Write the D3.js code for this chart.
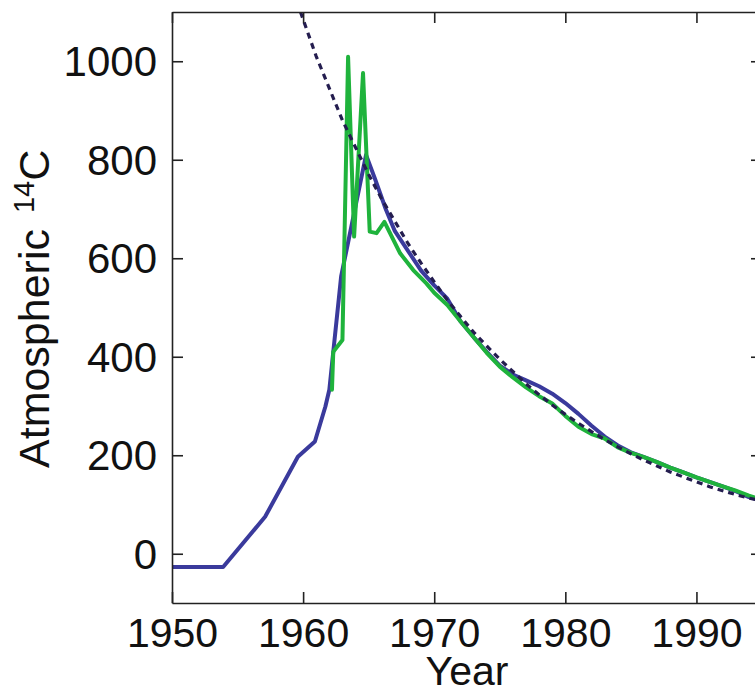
<!DOCTYPE html>
<html>
<head>
<meta charset="utf-8">
<script src="https://cdn.jsdelivr.net/npm/d3@7"></script>
<style>
  html, body { margin: 0; padding: 0; background: #fff; }
  svg { display: block; }
  text { font-family: "Liberation Sans", Arial, Helvetica, sans-serif; fill: #111; }
</style>
</head>
<body>
<svg id="chart" width="755" height="694"></svg>
<script>
// ---- Data ----
const blueYears  = [1950, 1953.9, 1957.1, 1959.6, 1960.9, 1961.7, 1962.0, 1962.9, 1964.8, 1965.5, 1966.3, 1967, 1968, 1969, 1970, 1971, 1972, 1973, 1974, 1975, 1976, 1977, 1978, 1979, 1980, 1981, 1982, 1983, 1984, 1985, 1986, 1987, 1988, 1989, 1990, 1991, 1992, 1993, 1994, 1995];
const blueValues = [-27, -27, 75, 197, 228, 299, 333, 563, 810, 760, 700, 655, 615, 575, 545, 518, 472, 440, 410, 382, 364, 352, 340, 325, 306, 284, 260, 238, 220, 206, 196, 186, 175, 165, 155, 146, 137, 127, 115, 108];

const greenYears  = [1962.2, 1962.3, 1963.0, 1963.43, 1963.89, 1964.57, 1965.08, 1965.6, 1966.2, 1967.4, 1968.4, 1969.4, 1970, 1971, 1972, 1973, 1974, 1975, 1976, 1977, 1978, 1979, 1980, 1981, 1982, 1983, 1984, 1985, 1986, 1987, 1988, 1989, 1990, 1991, 1992, 1993, 1994, 1995];
const greenValues = [333, 410, 434, 1009, 644, 976, 654, 651, 674, 610, 576, 549, 530, 505, 472, 440, 408, 380, 358, 338, 320, 305, 280, 258, 243, 234, 216, 205, 196, 186, 175, 165, 155, 146, 137, 128, 118, 110];

const fitYears  = [1959.8, 1961, 1962, 1963, 1964, 1965, 1966, 1967, 1968, 1969, 1970, 1971, 1972, 1973, 1974, 1975, 1976, 1977, 1978, 1979, 1980, 1981, 1982, 1983, 1984, 1985, 1986, 1987, 1988, 1989, 1990, 1991, 1992, 1993, 1994, 1995];
const fitValues = [1100, 1010, 945, 880, 825, 770, 720, 675, 630, 590, 552, 515, 482, 450, 422, 395, 370, 345, 323, 302, 283, 265, 248, 232, 217, 203, 190, 178, 166, 156, 146, 136, 128, 120, 113, 107];

const xTicks = [1950, 1960, 1970, 1980, 1990];
const yTicks = [0, 200, 400, 600, 800, 1000];

// ---- Layout ----
const mLeft = 172, mRight = 762, mTop = 12, mBottom = 603;
const svg = d3.select("#chart");

const x = d3.scaleLinear().domain([1950, 1995]).range([mLeft, mRight]);
const y = d3.scaleLinear().domain([-100, 1100]).range([mBottom, mTop]);

svg.append("defs").append("clipPath").attr("id", "plotclip")
  .append("rect").attr("x", mLeft).attr("y", mTop)
  .attr("width", mRight - mLeft).attr("height", mBottom - mTop);

const line = d3.line().x(d => x(d[0])).y(d => y(d[1]));
const zip = (a, b) => a.map((v, i) => [v, b[i]]);

const plot = svg.append("g").attr("clip-path", "url(#plotclip)");

plot.append("path").datum(zip(blueYears, blueValues))
  .attr("d", line).attr("fill", "none")
  .attr("stroke", "#3a3a9c").attr("stroke-width", 4)
  .attr("stroke-linejoin", "round").attr("stroke-linecap", "round");

plot.append("path").datum(zip(greenYears, greenValues))
  .attr("d", line).attr("fill", "none")
  .attr("stroke", "#1fb33c").attr("stroke-width", 4)
  .attr("stroke-linejoin", "round").attr("stroke-linecap", "round");

plot.append("path").datum(zip(fitYears, fitValues))
  .attr("d", line).attr("fill", "none")
  .attr("stroke", "#241d4f").attr("stroke-width", 3.2)
  .attr("stroke-dasharray", "6,5");

// ---- Axes ----
const tickLen = 11;
function styleAxis(g) {
  g.selectAll(".domain").attr("stroke", "#222").attr("stroke-width", 1.6);
  g.selectAll(".tick line").attr("stroke", "#222").attr("stroke-width", 1.6);
}

const gx = svg.append("g").attr("transform", `translate(0,${mBottom})`)
  .call(d3.axisBottom(x).tickValues(xTicks).tickFormat(d3.format("d"))
        .tickSizeInner(-tickLen).tickSizeOuter(0));
gx.selectAll(".tick text").attr("y", 44).attr("dy", 0)
  .style("font-size", "41px").style("font-family", "'Liberation Sans', Arial, sans-serif").attr("fill", "#111");
styleAxis(gx);

const gy = svg.append("g").attr("transform", `translate(${mLeft},0)`)
  .call(d3.axisLeft(y).tickValues(yTicks).tickFormat(d3.format("d"))
        .tickSizeInner(-tickLen).tickSizeOuter(0));
gy.selectAll(".tick text").attr("x", -15).attr("dy", "0.34em")
  .style("font-size", "42px").style("font-family", "'Liberation Sans', Arial, sans-serif").attr("fill", "#111");
styleAxis(gy);

const gt = svg.append("g").attr("transform", `translate(0,${mTop})`)
  .call(d3.axisTop(x).tickValues(xTicks).tickFormat("")
        .tickSizeInner(-tickLen).tickSizeOuter(0));
styleAxis(gt);

const gr = svg.append("g").attr("transform", `translate(${mRight},0)`)
  .call(d3.axisRight(y).tickValues(yTicks).tickFormat("")
        .tickSizeInner(-tickLen).tickSizeOuter(0));
styleAxis(gr);

// ---- Axis titles ----
svg.append("text")
  .attr("x", (mLeft + mRight) / 2).attr("y", 685)
  .attr("text-anchor", "middle")
  .style("font-size", "41px")
  .text("Year");

const yl = svg.append("text")
  .attr("transform", "translate(49,468) rotate(-90)")
  .attr("text-anchor", "start")
  .style("font-size", "43px");
yl.append("tspan").text("Atmospheric ");
yl.append("tspan").attr("dy", -15).attr("dx", 4).style("font-size", "29px").text("14");
yl.append("tspan").attr("dy", 15).text("C");
</script>
</body>
</html>
